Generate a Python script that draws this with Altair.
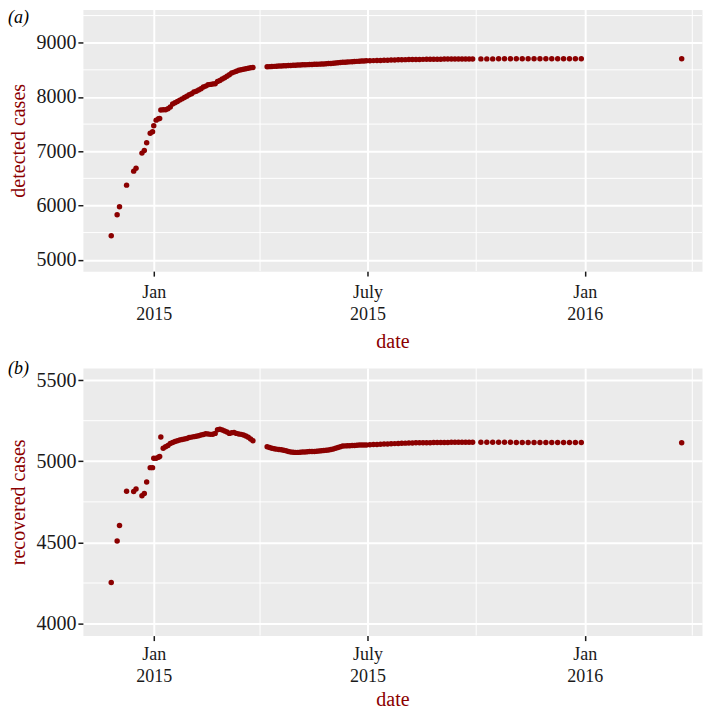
import altair as alt
import pandas as pd

# ---------------- data ----------------
dates = [
    "2014-11-26", "2014-12-01", "2014-12-03", "2014-12-09", "2014-12-15", "2014-12-17",
    "2014-12-22", "2014-12-24", "2014-12-26", "2014-12-29", "2014-12-31", "2015-01-01",
    "2015-01-03", "2015-01-05", "2015-01-06", "2015-01-07", "2015-01-09", "2015-01-11",
    "2015-01-13",
    "2015-01-15", "2015-01-17", "2015-01-19", "2015-01-21", "2015-01-23", "2015-01-25",
    "2015-01-27", "2015-01-29", "2015-01-31", "2015-02-02", "2015-02-04", "2015-02-06",
    "2015-02-08", "2015-02-10", "2015-02-12", "2015-02-14", "2015-02-16", "2015-02-18",
    "2015-02-20", "2015-02-22", "2015-02-24", "2015-02-26", "2015-02-28", "2015-03-02",
    "2015-03-04", "2015-03-06", "2015-03-08", "2015-03-10", "2015-03-12", "2015-03-14",
    "2015-03-16", "2015-03-18", "2015-03-20", "2015-03-22", "2015-03-24", "2015-03-26",
    "2015-04-07", "2015-04-09", "2015-04-11", "2015-04-13", "2015-04-15", "2015-04-17",
    "2015-04-19", "2015-04-21", "2015-04-23", "2015-04-25", "2015-04-27", "2015-04-29",
    "2015-05-01", "2015-05-03", "2015-05-05", "2015-05-07", "2015-05-09", "2015-05-11",
    "2015-05-13", "2015-05-15", "2015-05-17", "2015-05-19", "2015-05-21", "2015-05-23",
    "2015-05-25", "2015-05-27", "2015-05-29", "2015-05-31", "2015-06-02", "2015-06-04",
    "2015-06-06", "2015-06-08", "2015-06-10", "2015-06-12", "2015-06-14", "2015-06-16",
    "2015-06-18", "2015-06-20", "2015-06-22", "2015-06-24", "2015-06-26", "2015-06-28",
    "2015-06-30",
    "2015-07-03", "2015-07-06", "2015-07-09", "2015-07-12", "2015-07-15", "2015-07-18",
    "2015-07-21", "2015-07-24", "2015-07-27", "2015-07-30", "2015-08-02", "2015-08-05",
    "2015-08-08", "2015-08-11", "2015-08-14", "2015-08-17", "2015-08-20", "2015-08-23",
    "2015-08-26", "2015-08-29", "2015-09-01", "2015-09-04", "2015-09-07", "2015-09-10",
    "2015-09-13", "2015-09-16", "2015-09-19", "2015-09-22", "2015-09-25", "2015-09-28",
    "2015-10-05", "2015-10-10", "2015-10-15", "2015-10-20", "2015-10-25", "2015-10-30",
    "2015-11-04", "2015-11-09", "2015-11-14", "2015-11-19", "2015-11-24", "2015-11-29",
    "2015-12-04", "2015-12-09", "2015-12-14", "2015-12-19", "2015-12-24", "2015-12-29",
    "2016-03-23",
]

detected = [
    5442, 5829, 5977, 6375, 6633, 6688, 6965, 7015, 7157, 7333, 7359, 7470,
    7573, 7598, 7604, 7758, 7765, 7765, 7783,
    7815, 7870, 7895, 7915, 7942, 7965, 7990, 8015, 8040, 8060, 8090, 8105,
    8130, 8150, 8185, 8200, 8225, 8232, 8238, 8245, 8285, 8305, 8330, 8355,
    8380, 8408, 8440, 8458, 8475, 8492, 8502, 8512, 8522, 8530, 8538, 8544,
    8556, 8559, 8562, 8564, 8567, 8569, 8571, 8574, 8576, 8579, 8581, 8584,
    8586, 8588, 8590, 8592, 8594, 8596, 8598, 8600, 8601, 8603, 8605, 8607,
    8609, 8612, 8615, 8618, 8622, 8626, 8630, 8634, 8638, 8641, 8644, 8647,
    8650, 8653, 8656, 8659, 8662, 8664, 8666,
    8668, 8670, 8672, 8674, 8676, 8678, 8680, 8682, 8684, 8686, 8688, 8689,
    8690, 8691, 8692, 8693, 8694, 8695, 8696, 8697, 8697, 8698, 8698, 8699,
    8699, 8700, 8700, 8700, 8701, 8701,
    8702, 8702, 8702, 8703, 8703, 8703, 8703, 8704, 8704, 8704, 8704, 8704,
    8705, 8705, 8705, 8705, 8705, 8705,
    8705,
]

recovered = [
    4253, 4509, 4605, 4816, 4814, 4829, 4788, 4802, 4872, 4961, 4961, 5019,
    5019, 5025, 5029, 5150, 5080, 5090, 5098,
    5110, 5116, 5122, 5127, 5131, 5134, 5138, 5141, 5146, 5149, 5152, 5154,
    5157, 5162, 5165, 5170, 5168, 5166, 5167, 5172, 5195, 5197, 5193, 5187,
    5180, 5172, 5176, 5178, 5172, 5168, 5166, 5162, 5156, 5148, 5138, 5127,
    5090, 5085, 5081, 5078, 5075, 5073, 5071, 5068, 5065, 5061, 5058, 5056,
    5055, 5055, 5056, 5057, 5058, 5059, 5060, 5060, 5061, 5062, 5063, 5065,
    5066, 5068, 5070, 5073, 5076, 5080, 5085, 5090, 5094, 5095, 5096, 5096,
    5097, 5098, 5099, 5100, 5100, 5100, 5101,
    5102, 5103, 5104, 5105, 5106, 5107, 5108, 5109, 5110, 5111, 5112, 5113,
    5113, 5114, 5114, 5115, 5115, 5115, 5116, 5116, 5116, 5116, 5116, 5117,
    5117, 5117, 5117, 5117, 5117, 5117,
    5117, 5117, 5117, 5117, 5117, 5117, 5116, 5116, 5116, 5116, 5116, 5116,
    5116, 5116, 5116, 5116, 5116, 5116,
    5115,
]

# axis ticks / labels
tick_years = [2015, 2015, 2016]
tick_months = [1, 7, 1]
tick_month_labels = ["Jan", "July", "Jan"]
tick_year_labels = ["2015", "2015", "2016"]
minor_x = ["2015-04-01", "2015-10-01", "2016-04-01"]

y_ticks_a = [5000, 6000, 7000, 8000, 9000]
y_minor_a = [5500, 6500, 7500, 8500, 9500]
y_ticks_b = [4000, 4500, 5000, 5500]
y_minor_b = [4250, 4750, 5250]

panel_labels = ["(a)", "(b)"]

# ---------------- chart ----------------
df = pd.DataFrame({"date": dates, "detected": detected, "recovered": recovered})

RED = "#8B0000"
SERIF = "Liberation Serif"
W = 620

x_domain = [alt.DateTime(year=2014, month=11, date=2, utc=True),
            alt.DateTime(year=2016, month=4, date=9, hours=5, utc=True)]
x_values = [alt.DateTime(year=y, month=m, date=1, utc=True) for y, m in zip(tick_years, tick_months)]

parts = []
for y, m, ml, yl in zip(tick_years, tick_months, tick_month_labels, tick_year_labels):
    parts.append(f"(utcyear(datum.value) == {y} && utcmonth(datum.value) == {m - 1}) ? ['{ml}', '{yl}']")
label_expr = " : ".join(parts) + " : ''"


def x_enc(label_pad, title_pad):
    return alt.X(
        "date:T",
        scale=alt.Scale(type="utc", domain=x_domain, nice=False),
        axis=alt.Axis(values=x_values, labelExpr=label_expr, title="date",
                      labelFont=SERIF, labelFontSize=18, labelLineHeight=22,
                      labelPadding=label_pad, titlePadding=title_pad,
                      titleFont=SERIF,
                      labelFlush=False, labelOverlap=False),
    )


def panel(field, title, domain, ticks, minors, label, label_y, height,
          label_pad, title_pad):
    xm = alt.Chart(pd.DataFrame({"date": minor_x})).mark_rule(
        color="white", strokeWidth=1).encode(x=alt.X("date:T"))
    ym = alt.Chart(pd.DataFrame({field: minors})).mark_rule(
        color="white", strokeWidth=1).encode(y=alt.Y(f"{field}:Q"))
    pts = alt.Chart(df).mark_circle(size=30, color=RED, opacity=1).encode(
        x=x_enc(label_pad, title_pad),
        y=alt.Y(f"{field}:Q",
                scale=alt.Scale(domain=domain, nice=False, zero=False),
                axis=alt.Axis(values=ticks, format="d", title=title,
                              labelFont=SERIF, titleFont=SERIF,
                              labelFontSize=20, titlePadding=7, labelPadding=2)),
    )
    lab = alt.Chart(pd.DataFrame({"label": [label]})).mark_text(
        align="left", baseline="top", font=SERIF, fontStyle="italic",
        fontSize=18, color="black").encode(
        x=alt.value(-75), y=alt.value(label_y), text="label:N")
    return alt.layer(xm, ym, pts, lab).properties(width=W, height=height)


top = panel("detected", "detected cases", [4790, 9612], y_ticks_a, y_minor_a,
            panel_labels[0], 0, 262, 7, 8)
bottom = panel("recovered", "recovered cases", [3926, 5575], y_ticks_b, y_minor_b,
               panel_labels[1], -8, 268, 5, 4)

chart = alt.vconcat(top, bottom, spacing=9).properties(
    padding={"left": 0, "top": 0, "right": 0, "bottom": 0}
).configure_view(
    fill="#EBEBEB", strokeOpacity=0
).configure_axis(
    labelFont=SERIF, labelFontSize=19, labelColor="#1a1a1a",
    titleFont=SERIF, titleFontSize=20, titleColor=RED, titleFontWeight="normal",
    tickColor="#1a1a1a", tickWidth=1.5, tickSize=5, domain=False,
    gridColor="white", gridWidth=2,
)

chart.save("out.html", embed_options={"renderer": "svg", "actions": False})
